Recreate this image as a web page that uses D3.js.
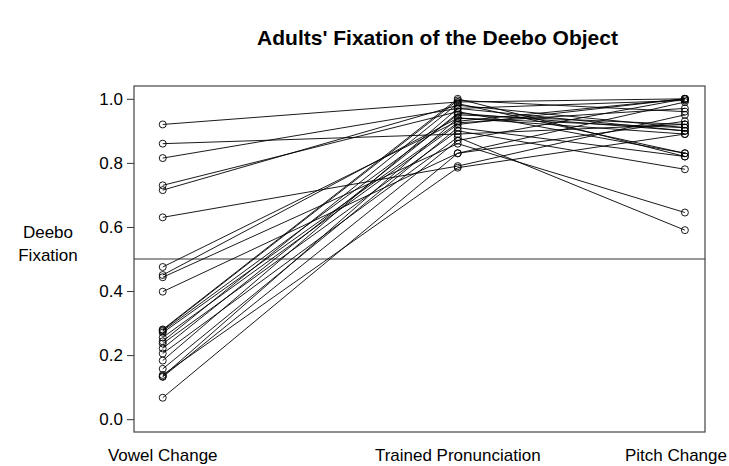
<!DOCTYPE html>
<html>
<head>
<meta charset="utf-8">
<script src="https://cdn.jsdelivr.net/npm/d3@7"></script>
<style>
  body { margin: 0; background: #fff; }
  svg text { font-family: "Liberation Sans", Arial, sans-serif; fill: #000; }
</style>
</head>
<body>
<div id="chart"></div>
<script>
// condition names and where they sit on the x axis
const conditions = ["Vowel Change", "Trained Pronunciation", "Pitch Change"];
const conditionPos = [1, 2.13, 3];
const yTicks = [0.0, 0.2, 0.4, 0.6, 0.8, 1.0];

// one value per participant, same order in every array
const vowelChange = [0.92, 0.86, 0.815, 0.73, 0.715, 0.63, 0.475, 0.45, 0.443, 0.398,
  0.28, 0.278, 0.275, 0.255, 0.243, 0.236, 0.221, 0.205, 0.183, 0.157,
  0.134, 0.132, 0.138, 0.067, 0.27];
const trainedPron = [0.99, 0.89, 0.97, 0.96, 0.98, 0.79, 0.93, 0.94, 0.86, 0.83,
  1.00, 0.995, 0.95, 0.92, 0.985, 0.90, 0.955, 0.88, 0.97, 0.91,
  0.94, 0.87, 0.785, 0.83, 0.925];
const pitchChange = [1.00, 0.92, 0.90, 0.83, 0.91, 0.95, 1.00, 0.89, 0.645, 0.99,
  0.82, 0.96, 0.92, 1.00, 0.83, 0.78, 0.90, 0.59, 0.995, 0.82,
  0.91, 1.00, 0.89, 0.93, 0.97];

(function(){
  const svgWidth = 729, svgHeight = 466;
  const margin = { top: 86, right: 24, bottom: 34, left: 134 };
  const width = svgWidth - margin.left - margin.right;
  const height = svgHeight - margin.top - margin.bottom;

  const svg = d3.select("#chart").append("svg")
    .attr("width", svgWidth).attr("height", svgHeight);

  // x padded so the outer columns sit a bit inside the box
  const x = d3.scaleLinear().domain([0.89, 3.077]).range([0, width]);
  const y = d3.scaleLinear().domain([-0.04, 1.04]).range([height, 0]);

  const g = svg.append("g").attr("transform", `translate(${margin.left}, ${margin.top})`);

  // reference line at 0.5
  g.append("line")
    .attr("x1", 0).attr("x2", width)
    .attr("y1", y(0.5)).attr("y2", y(0.5))
    .attr("stroke", "#333").attr("stroke-width", 1);

  const rows = vowelChange.map((v, i) => [v, trainedPron[i], pitchChange[i]]);
  const line = d3.line().x((d, j) => x(conditionPos[j])).y(d => y(d));

  g.selectAll("path.subj").data(rows).enter().append("path")
    .attr("class", "subj")
    .attr("d", line)
    .attr("fill", "none")
    .attr("stroke", "#000")
    .attr("stroke-width", 0.9);

  rows.forEach(function(r){
    g.selectAll(null).data(r).enter().append("circle")
      .attr("cx", (d, j) => x(conditionPos[j]))
      .attr("cy", d => y(d))
      .attr("r", 3.5)
      .attr("fill", "none")
      .attr("stroke", "#000")
      .attr("stroke-width", 0.9);
  });

  // y axis
  const yAxis = g.append("g")
    .call(d3.axisLeft(y).tickValues(yTicks).tickFormat(d3.format(".1f")).tickSize(7).tickPadding(4));
  yAxis.select(".domain").remove();
  yAxis.selectAll("line").attr("stroke", "#333");
  yAxis.selectAll("text").attr("font-size", 17).style("font-family", "Liberation Sans, Arial, sans-serif");

  // box
  g.append("rect")
    .attr("x", 0).attr("y", 0).attr("width", width).attr("height", height)
    .attr("fill", "none").attr("stroke", "#444").attr("stroke-width", 1.2);

  // x labels
  const condLabels = g.selectAll("text.cond").data(conditions).enter().append("text")
    .attr("class", "cond")
    .attr("x", (d, i) => x(conditionPos[i]))
    .attr("y", height + 29)
    .attr("text-anchor", "middle")
    .attr("font-size", 17)
    .text(d => d);

  // keep the last label inside the page
  condLabels.each(function(){
    const bb = this.getBBox();
    const over = margin.left + bb.x + bb.width - (svgWidth - 2);
    if (over > 0) d3.select(this).attr("x", +d3.select(this).attr("x") - over);
  });

  // y label, two lines
  const yl = svg.append("text")
    .attr("text-anchor", "middle")
    .attr("font-size", 17)
    .attr("x", 48).attr("y", 238);
  yl.append("tspan").attr("x", 48).text("Deebo");
  yl.append("tspan").attr("x", 48).attr("dy", 23).text("Fixation");

  // title
  svg.append("text")
    .attr("x", margin.left + width / 2 + 18)
    .attr("y", 45)
    .attr("text-anchor", "middle")
    .attr("font-size", 21)
    .attr("font-weight", "bold")
    .text("Adults' Fixation of the Deebo Object");
})();
</script>
</body>
</html>
